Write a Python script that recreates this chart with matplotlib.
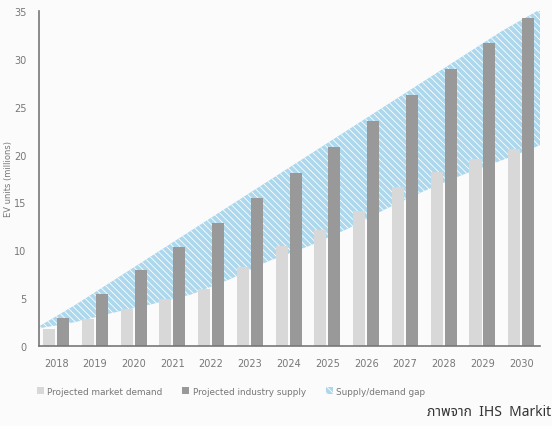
import matplotlib.pyplot as plt
import matplotlib.patches as mpatches
import numpy as np

years = ['2018', '2019', '2020', '2021', '2022', '2023', '2024',
         '2025', '2026', '2027', '2028', '2029', '2030']
demand = [1.8, 2.8, 3.9, 4.9, 6.0, 8.3, 10.4, 12.1, 14.1, 16.6, 18.2, 19.5, 20.6]
supply = [2.9, 5.4, 7.9, 10.3, 12.8, 15.5, 18.1, 20.8, 23.5, 26.2, 28.9, 31.7, 34.3]
# gap band edges at the year group boundaries (first = left edge of 2018, last = right edge of 2030)
gap_top = [1.9, 4.3, 6.9, 9.5, 12.1, 14.7, 17.3, 19.9, 22.5, 25.1, 27.7, 30.3, 32.9, 35.2]
gap_bottom = [1.8, 2.5, 3.5, 4.4, 5.4, 7.0, 8.9, 10.4, 12.2, 14.3, 16.2, 17.9, 19.4, 21.0]

plt.rcParams['hatch.linewidth'] = 0.6
blue = '#acd7ec'

fig = plt.figure(figsize=(5.52, 4.27), dpi=100)
fig.patch.set_facecolor('#fbfbfb')
ax = fig.add_axes([0.0707, 0.1874, 0.9073, 0.7846])
ax.set_facecolor('none')

x = np.arange(len(years))
w = 0.31
edges = np.arange(len(gap_top)) - 0.5

ax.fill_between(edges, gap_bottom, gap_top, facecolor=blue, edgecolor='white',
                hatch='\\\\\\\\\\', linewidth=0, zorder=1)
ax.bar(x - 0.18, demand, width=w, color='#d8d8d8', zorder=2)
ax.bar(x + 0.18, supply, width=w, color='#999999', zorder=2)

ax.set_xlim(-0.44, 12.48)
ax.set_ylim(0, 35)
ax.set_xticks(x)
ax.set_xticklabels(years)
ax.set_yticks(range(0, 36, 5))
ax.tick_params(length=0, labelsize=7, colors='#777777', pad=9)
ax.tick_params(axis='y', pad=9)
for s in ['top', 'right']:
    ax.spines[s].set_visible(False)
for s in ['left', 'bottom']:
    ax.spines[s].set_color('#777777')
    ax.spines[s].set_linewidth(1.2)

# y label placed in figure coords so it stays inside the left edge
fig.text(9 / 552, 0.58, 'EV units (millions)', rotation=90, ha='center', va='center',
         fontsize=6, color='#777777')

handles = [
    mpatches.Patch(facecolor='#d8d8d8', label='Projected market demand'),
    mpatches.Patch(facecolor='#999999', label='Projected industry supply'),
    mpatches.Patch(facecolor=blue, edgecolor='white', hatch='\\\\\\\\\\', linewidth=0,
                   label='Supply/demand gap'),
]
fig.legend(handles=handles, loc='center left', bbox_to_anchor=(0.052, 0.081), ncol=3,
           frameon=False, fontsize=6.4, labelcolor='#777777', handlelength=0.8,
           handleheight=0.8, handletextpad=0.4, columnspacing=2.2)

fig.text(0.998, 0.035, 'ภาพจาก  IHS  Markit', ha='right', va='center', fontsize=10,
         color='#333333', family=['Noto Sans Thai', 'Loma', 'Garuda', 'DejaVu Sans'])

fig.savefig('out.png', dpi=100)
